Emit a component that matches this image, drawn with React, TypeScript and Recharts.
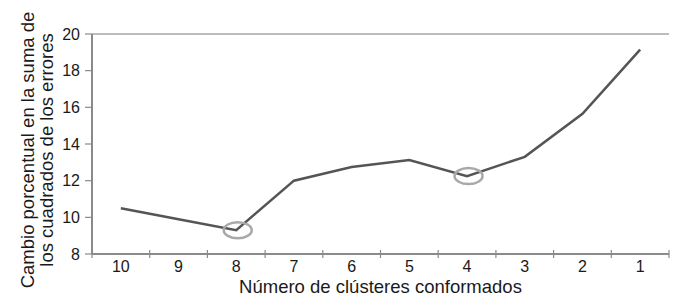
import React from 'react';
import { LineChart, Line, XAxis, YAxis, ReferenceLine } from 'recharts';

const clusters = ['10', '9', '8', '7', '6', '5', '4', '3', '2', '1'];
const values = [10.5, 9.9, 9.3, 12.0, 12.75, 13.13, 12.25, 13.3, 15.65, 19.15];
const highlighted = ['8', '4'];
const yTicks = [8, 10, 12, 14, 16, 18, 20];
const xTitle = 'Número de clústeres conformados';
const yTitleLines = ['Cambio porcentual en la suma de', 'los cuadrados de los errores'];

const data = clusters.map((c, i) => ({ cluster: c, value: values[i] }));

const FONT = '"Liberation Sans", Arial, Helvetica, sans-serif';
const TEXT = '#1a1a1a';
const AXIS = '#8a8a8a';

const XTick = (props: any) => {
  const { x, y, payload, index, visibleTicksCount } = props;
  const half = typeof payload.offset === 'number' && payload.offset > 0 ? payload.offset : 28.85;
  const count = visibleTicksCount ?? clusters.length;
  return (
    <g>
      <line x1={x - half} x2={x - half} y1={y - 4} y2={y + 4} stroke={AXIS} strokeWidth={1.2} />
      {index === count - 1 && (
        <line x1={x + half} x2={x + half} y1={y - 4} y2={y + 4} stroke={AXIS} strokeWidth={1.2} />
      )}
      <text x={x} y={y} dy={18} textAnchor="middle" fontSize={16} fill={TEXT} fontFamily={FONT}>
        {payload.value}
      </text>
    </g>
  );
};

const YTitle = (props: any) => {
  const vb = props.viewBox || { x: 0, y: 34, width: 92, height: 220 };
  const cy = vb.y + vb.height / 2 + 6;
  const xs = [27, 46];
  return (
    <g>
      {yTitleLines.map((t, i) => (
        <text
          key={i}
          x={xs[i]}
          y={cy}
          transform={`rotate(-90 ${xs[i]} ${cy})`}
          textAnchor="middle"
          dominantBaseline="central"
          fontSize={18.5}
          fill={TEXT}
          fontFamily={FONT}
        >
          {t}
        </text>
      ))}
    </g>
  );
};

const XTitle = (props: any) => {
  const vb = props.viewBox || { x: 92, y: 254, width: 577, height: 51 };
  return (
    <text
      x={vb.x + vb.width / 2}
      y={vb.y + 39}
      textAnchor="middle"
      fontSize={18.5}
      fill={TEXT}
      fontFamily={FONT}
    >
      {xTitle}
    </text>
  );
};

const renderDot = (props: any) => {
  const { cx, cy, payload, index } = props;
  if (payload && highlighted.includes(payload.cluster)) {
    return (
      <ellipse
        key={`d${index}`}
        cx={cx + 1.5}
        cy={cy}
        rx={14}
        ry={8}
        fill="none"
        stroke="#a8a8a8"
        strokeWidth={2.5}
      />
    );
  }
  return <g key={`d${index}`} />;
};

export default function App() {
  return (
    <div style={{ position: 'absolute', left: 0, top: 0, width: 675, height: 305, background: '#fff' }}>
      <LineChart
        width={675}
        height={305}
        data={data}
        margin={{ top: 34, right: 6, bottom: 0, left: 0 }}
      >
        <XAxis
          dataKey="cluster"
          scale="band"
          height={51}
          axisLine={{ stroke: AXIS, strokeWidth: 2 }}
          tickLine={false}
          tickSize={0}
          tickMargin={0}
          tick={<XTick />}
          interval={0}
          label={<XTitle />}
        />
        <YAxis
          width={92}
          domain={[8, 20]}
          ticks={yTicks}
          interval={0}
          axisLine={{ stroke: AXIS, strokeWidth: 2 }}
          tickLine={{ stroke: AXIS, strokeWidth: 1.2 }}
          tickSize={7}
          tickMargin={5}
          tick={{ fontSize: 16, fill: TEXT, fontFamily: FONT }}
          label={<YTitle />}
        />
        <YAxis
          yAxisId="right"
          orientation="right"
          width={0}
          domain={[8, 20]}
          tick={false}
          tickLine={false}
          axisLine={{ stroke: '#a6a6a6', strokeWidth: 1.5 }}
        />
        <ReferenceLine y={20} stroke="#a6a6a6" strokeWidth={1.5} />
        <Line
          type="linear"
          dataKey="value"
          stroke="#555555"
          strokeWidth={2.5}
          dot={renderDot}
          activeDot={false}
          isAnimationActive={false}
        />
      </LineChart>
    </div>
  );
}
